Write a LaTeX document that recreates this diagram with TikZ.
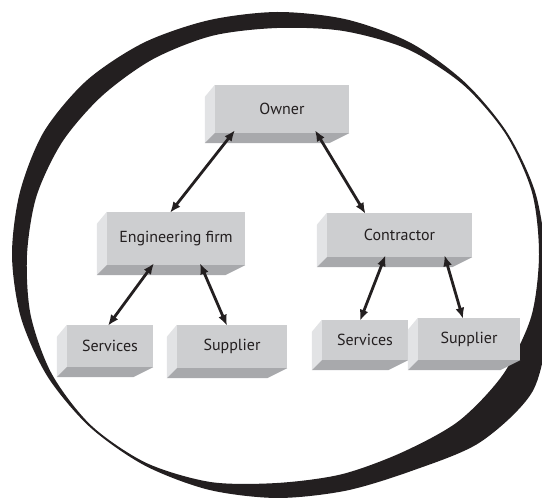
\documentclass[tikz,border=0pt]{standalone}
\usepackage{fontspec}
\setmainfont{PT Sans}
\usetikzlibrary{arrows.meta}

\definecolor{ink}{RGB}{35,31,32}
\definecolor{slabfront}{RGB}{205,206,208}
\definecolor{slableft}{RGB}{226,227,229}
\definecolor{slabbottom}{RGB}{168,169,172}

% left and lower faces of a box node
\newcommand{\slabsides}[1]{%
  \fill[slableft] (#1.north west) -- ([shift={(-10,12)}]#1.north west)
    -- ([shift={(-10,10)}]#1.south west) -- (#1.south west) -- cycle;
  \fill[slabbottom] (#1.south west) -- ([shift={(-10,10)}]#1.south west)
    -- ([shift={(-20,10)}]#1.south east) -- (#1.south east) -- cycle;}

\tikzset{
  slab/.style={fill=slabfront, inner sep=0pt, text=ink,
    font=\fontsize{16}{19}\selectfont},
  link/.style={draw=ink, line width=2.8pt,
    {Latex[length=11pt,width=9pt]}-{Latex[length=11pt,width=9pt]}},
}

\begin{document}
\begin{tikzpicture}[x=1pt, y=-1pt]
  \useasboundingbox (0,0) rectangle (542,500);

  % the ring
  \fill[ink, even odd rule]
    plot[smooth cycle] coordinates {(546,255) (535,191.5) (507.4,133) (465.1,82.5)
      (410.5,42.8) (345.9,19.3) (277,12) (208.4,20.3) (143.5,42.8) (86.8,80.4)
      (44,131.5) (20,191.8) (12,255) (21,317.9) (47.5,376.5) (89.6,426.8)
      (144.5,465.4) (208.4,489.7) (277,498) (345.9,490.7) (412.5,470.6)
      (479.9,442.4) (532.5,391.5) (548.4,322.1)}
    plot[smooth cycle] coordinates {(539,255) (532,192.3) (505.6,134) (462.9,84.6)
      (407,48.9) (342.8,30.9) (277,28) (212.2,35.8) (152.5,59.4) (101.7,96.2)
      (62.2,142) (36.5,196.2) (27,255) (30.7,315.3) (51.8,374) (91.1,425.4)
      (146,462.8) (210.4,482) (277,483) (341.5,474.3) (402,452.4)
      (458.7,421.1) (503,374.5) (531,317.4)};

  % boxes
  \node[slab, minimum width=134pt, minimum height=48pt] (owner) at (282,109) {Owner};
  \slabsides{owner}
  \node[slab, minimum width=138pt, minimum height=53pt] (engfirm) at (176,238.5) {Engineering firm};
  \slabsides{engfirm}
  \node[slab, minimum width=145pt, minimum height=44pt] (contractor) at (399.5,235) {Contractor};
  \slabsides{contractor}
  \node[slab, minimum width=86pt, minimum height=42pt] (engservices) at (110,346) {Services};
  \slabsides{engservices}
  \node[slab, minimum width=110pt, minimum height=43pt] (engsupplier) at (232,346.5) {Supplier};
  \slabsides{engsupplier}
  \node[slab, minimum width=86pt, minimum height=40pt] (conservices) at (365,340) {Services};
  \slabsides{conservices}
  \node[slab, minimum width=102pt, minimum height=42pt] (consupplier) at (469,339) {Supplier};
  \slabsides{consupplier}

  % two-way links
  \draw[link] ([shift={(-47,-3)}]owner.south) -- ([shift={(-6,1)}]engfirm.north);
  \draw[link] ([shift={(33,-3)}]owner.south) -- ([shift={(-34,1)}]contractor.north);
  \draw[link] ([shift={(-22,-2)}]engfirm.south) -- ([shift={(-2,1)}]engservices.north);
  \draw[link] ([shift={(24,-2)}]engfirm.south) -- ([shift={(-5,1)}]engsupplier.north);
  \draw[link] ([shift={(-14,-2)}]contractor.south) -- ([shift={(-5,1)}]conservices.north);
  \draw[link] ([shift={(45,-2)}]contractor.south) -- ([shift={(-6,1)}]consupplier.north);
\end{tikzpicture}
\end{document}
